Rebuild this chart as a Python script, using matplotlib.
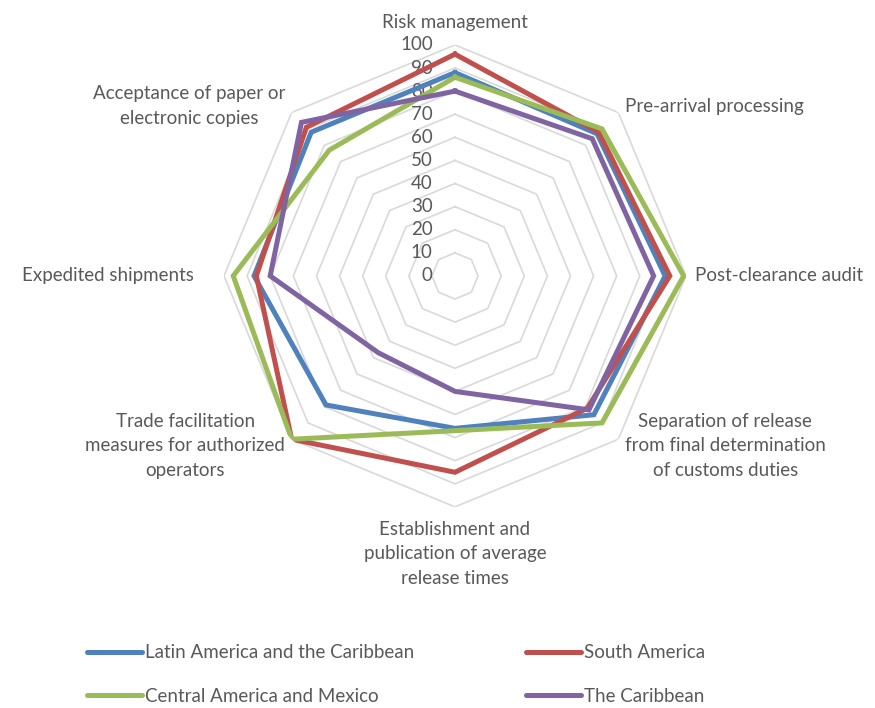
import numpy as np
import matplotlib.pyplot as plt
from matplotlib.lines import Line2D

plt.rcParams['font.family'] = ['Lato', 'DejaVu Sans']

# Categories, clockwise from the top
categories = [
    'Risk management',
    'Pre-arrival processing',
    'Post-clearance audit',
    'Separation of release\nfrom final determination\nof customs duties',
    'Establishment and\npublication of average\nrelease times',
    'Trade facilitation\nmeasures for authorized\noperators',
    'Expedited shipments',
    'Acceptance of paper or\nelectronic copies',
]

lac = [88, 87, 91, 85, 66, 79, 87, 88]
south_america = [96, 88, 93, 81, 85, 100, 86, 91]
central_america = [86, 90, 99, 90, 67, 100, 96, 77]
caribbean = [80, 84, 86, 82, 50, 47, 80, 94]

series = [
    ('Latin America and the Caribbean', lac, '#4F81BD'),
    ('South America', south_america, '#C0504D'),
    ('Central America and Mexico', central_america, '#9BBB59'),
    ('The Caribbean', caribbean, '#8064A2'),
]

ticks = list(range(0, 101, 10))
text_color = '#595959'
fs = 13.5

n = len(categories)
theta = np.linspace(0, 2 * np.pi, n, endpoint=False)
theta_closed = np.append(theta, theta[0])

fig = plt.figure(figsize=(8.75, 7.08), dpi=100)
ax = fig.add_axes([0.256, 0.284, 0.528, 0.6526], projection='polar')
ax.set_theta_zero_location('N')
ax.set_theta_direction(-1)
ax.set_ylim(0, 100)
ax.grid(False)
ax.spines['polar'].set_visible(False)
ax.set_xticks([])
ax.set_yticks([])
ax.patch.set_alpha(0)

# octagonal gridlines
for t in ticks[1:]:
    ax.plot(theta_closed, [t] * (n + 1), color='#D9D9D9', lw=1.2, zorder=1)

# radial value labels
for t in ticks:
    ax.annotate(str(t), xy=(0, t), xytext=(-16, 0), textcoords='offset points',
                ha='right', va='center', fontsize=fs, color=text_color)

handles = {}
for name, vals, color in series:
    ax.plot(theta_closed, vals + vals[:1], color=color, lw=3.6,
            solid_joinstyle='miter', zorder=3)
    handles[name] = Line2D([], [], color=color, lw=3.6, solid_capstyle='round')

# category labels: (radius, ha, va)
label_pos = [
    (106, 'center', 'bottom'),
    (104, 'left', 'center'),
    (104, 'left', 'center'),
    (104, 'left', 'center'),
    (106, 'center', 'top'),
    (104, 'right', 'center'),
    (113, 'right', 'center'),
    (104, 'right', 'center'),
]
for ang, lab, (r, ha, va) in zip(theta, categories, label_pos):
    ax.text(ang, r, lab, ha=ha, va=va, multialignment='center',
            fontsize=fs, color=text_color, linespacing=1.55)

order = ['Latin America and the Caribbean', 'Central America and Mexico',
         'South America', 'The Caribbean']
leg = fig.legend([handles[k] for k in order], order, ncol=2,
                 loc='upper left', bbox_to_anchor=(0.08, 0.114),
                 frameon=False, fontsize=fs, handlelength=2.95,
                 handletextpad=0.15, columnspacing=5.95, labelspacing=1.42)
for txt in leg.get_texts():
    txt.set_color(text_color)

fig.savefig('out.png', dpi=100)
